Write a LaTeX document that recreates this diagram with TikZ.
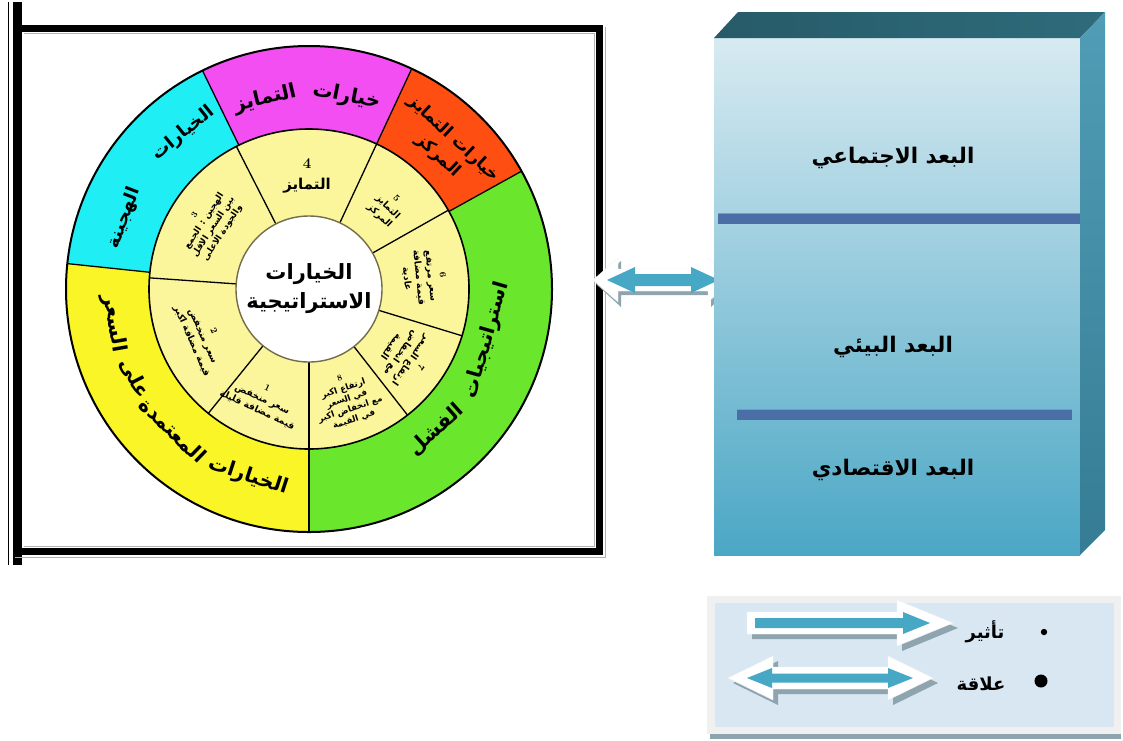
\documentclass[tikz,border=0pt]{standalone}
\usepackage{fontspec}
\usetikzlibrary{calc}
\newfontfamily\arabicfont[Script=Arabic]{DejaVu Sans}
\TeXXeTstate=1
\newcommand{\AR}[1]{{\arabicfont\beginR #1\endR}}
\definecolor{cMag}{HTML}{F24EF2}
\definecolor{cCyan}{HTML}{1FEFF4}
\definecolor{cOrange}{HTML}{FF4E12}
\definecolor{cGreen}{HTML}{6AE62C}
\definecolor{cYellow}{HTML}{F9F526}
\definecolor{cPale}{HTML}{FBF59C}
\definecolor{cBoxTop}{HTML}{D7EAF1}
\definecolor{cBoxBot}{HTML}{4BA7C5}
\definecolor{cBoxLid}{HTML}{2E6B7B}
\definecolor{cBoxSide}{HTML}{3E92AE}
\definecolor{cBar}{HTML}{4B6EA7}
\definecolor{cBarHi}{HTML}{7A98C8}
\definecolor{cArrow}{HTML}{46A8C4}
\definecolor{cShadow}{HTML}{8EA4AF}
\definecolor{cLegBg}{HTML}{D9E7F3}
\definecolor{cLegBd}{HTML}{F0F0F0}
\tikzset{
  outerword/.style={font=\fontsize{20}{22}\selectfont\bfseries, inner sep=0pt},
  innertxt/.style={font=\fontsize{9.3}{12}\selectfont\bfseries, align=center, inner sep=0pt},
  centertxt/.style={font=\fontsize{21}{29}\selectfont\bfseries, align=center, inner sep=0pt},
  dimtxt/.style={font=\fontsize{21.5}{24}\selectfont\bfseries, inner sep=0pt},
  legtxt/.style={font=\fontsize{18}{20}\selectfont\bfseries, inner sep=0pt},
  ringline/.style={line width=1.3pt, black},
  arrowwhite/.style={fill=white, draw=white!90!gray, line width=0.4pt},
  arrowshadow/.style={fill=cShadow},
  arrowblue/.style={fill=cArrow}
}
\begin{document}
\begin{tikzpicture}[x=1pt,y=1pt]
\useasboundingbox (0,0) rectangle (1123,-740);
% ---------- picture frame ----------
\draw[line width=1.4pt] (8.5,-2) -- (8.5,-565);
\fill (13,-2) rectangle (22,-565);
\fill (13,-25) rectangle (603,-32);
\fill (596,-25) rectangle (603,-555);
\fill (13,-548) rectangle (603,-555);
\draw[gray!60, line width=0.9pt] (24,-33.8) -- (594.3,-33.8) -- (594.3,-546.3) -- (24,-546.3);
\draw[gray!60, line width=0.9pt] (605,-27) -- (605,-557) -- (15,-557);
% ---------- wheel ----------
\coordinate (C) at (309,-289);
\fill[cYellow] (C) -- ++(174:243) arc[start angle=174, end angle=270, radius=243] -- cycle;
\fill[cGreen]  (C) -- ++(270:243) arc[start angle=270, end angle=389, radius=243] -- cycle;
\fill[cOrange] (C) -- ++(29:243) arc[start angle=29, end angle=65, radius=243] -- cycle;
\fill[cMag]    (C) -- ++(65:243) arc[start angle=65, end angle=116, radius=243] -- cycle;
\fill[cCyan]   (C) -- ++(116:243) arc[start angle=116, end angle=174, radius=243] -- cycle;
\foreach \a in {174,270,29,65,116}
  \draw[ringline] ($(C)+(\a:160)$) -- ($(C)+(\a:243)$);
\fill[cPale] (C) circle[radius=160];
\foreach \a in {29.5,65,117,176,231,270,308,343}
  \draw[ringline] ($(C)+(\a:73)$) -- ($(C)+(\a:160)$);
\draw[line width=1.6pt] (C) circle[radius=160];
\draw[line width=2pt] (C) circle[radius=243];
\fill[white] (C) circle[radius=73];
\draw[line width=1.4pt, black!45!olive!60!gray] (C) circle[radius=73];
\node[centertxt] (centre) at (C) {\AR{الخيارات}\\\AR{الاستراتيجية}};
% outer ring words
\node[outerword, rotate=13]  (magA) at ($(C)+(103:195)$) {\AR{التمايز}};
\node[outerword, rotate=-11] (magB) at ($(C)+(79:196)$) {\AR{خيارات}};
\node[outerword, rotate=-43, align=center, font=\fontsize{17}{23}\selectfont\bfseries] (orng) at ($(C)+(46:197)$) {\AR{خيارات التمايز}\\\AR{المركز}};
\node[outerword, rotate=39, font=\fontsize{18}{20}\selectfont\bfseries] (cyA) at ($(C)+(129:200)$) {\AR{الخيارات}};
\node[outerword, rotate=69, font=\fontsize{18}{20}\selectfont\bfseries] (cyB) at ($(C)+(159:198)$) {\AR{الهجينة}};
\node[outerword, rotate=-80] (yeA) at ($(C)+(190:198)$) {\AR{السعر}};
\node[outerword, rotate=-63] (yeB) at ($(C)+(207:196)$) {\AR{على}};
\node[outerword, rotate=-44] (yeC) at ($(C)+(226:196)$) {\AR{المعتمدة}};
\node[outerword, rotate=-18] (yeD) at ($(C)+(252:197)$) {\AR{الخيارات}};
\node[outerword, rotate=74] (grA) at ($(C)+(-16:185)$) {\AR{استراتيجيات}};
\node[outerword, rotate=42] (grB) at ($(C)+(-48:190)$) {\AR{الفشل}};
% inner ring texts
\node[innertxt, font=\fontsize{15}{21}\selectfont\bfseries] (s4) at ($(C)+(91:113)$) {4\\\AR{التمايز}};
\node[innertxt, rotate=-44] (s5) at ($(C)+(46:113)$) {5\\\AR{التمايز}\\\AR{المركز}};
\node[innertxt, rotate=-84] (s6) at ($(C)+(6:116)$) {6\\\AR{سعر مرتفع}\\\AR{قيمة مضافة}\\\AR{عادية}};
\node[innertxt, rotate=-125] (s7) at ($(C)+(-35:118)$) {7\\\AR{ارتفاع السعر}\\\AR{مع انخفاض}\\\AR{القيمة}};
\node[innertxt, rotate=19, font=\fontsize{8.6}{10.8}\selectfont\bfseries] (s8) at ($(C)+(-71:117)$) {8\\\AR{ارتفاع اكبر}\\\AR{في السعر}\\\AR{مع انخفاض اكبر}\\\AR{في القيمة}};
\node[innertxt, rotate=-25] (s1) at ($(C)+(247:120)$) {1\\\AR{سعر منخفض}\\\AR{قيمة مضافة قليلة}};
\node[innertxt, rotate=-66] (s2) at ($(C)+(204:117)$) {2\\\AR{سعر منخفض}\\\AR{قيمة مضافة اكبر}};
\node[innertxt, rotate=57, font=\fontsize{8.8}{11}\selectfont\bfseries] (s3) at ($(C)+(147:119)$) {3\\\AR{الهجين : الجمع}\\\AR{بين السعر الاقل}\\\AR{والجودة الاعلى}};
% ---------- link arrow ----------
\begin{scope}[shift={(663,-280)}]
  \path[arrowshadow] (-67,-4) -- (-42,19) -- (-42,7) -- (48,7) -- (48,19) -- (73,-4) -- (48,-27) -- (48,-15) -- (-42,-15) -- (-42,-27) -- cycle;
  \path[arrowwhite] (-70,0) -- (-45,22) -- (-45,11) -- (45,11) -- (45,22) -- (70,0) -- (45,-22) -- (45,-11) -- (-45,-11) -- (-45,-22) -- cycle;
  \path[arrowblue] (-56,0) -- (-28,13) -- (-28,6) -- (28,6) -- (28,13) -- (56,0) -- (28,-13) -- (28,-6) -- (-28,-6) -- (-28,-13) -- cycle;
\end{scope}
% ---------- 3D box ----------
\shade[top color=cBoxTop, bottom color=cBoxBot] (714,-38) rectangle (1080,-555);
\shade[left color=cBoxLid!85!black, right color=cBoxLid] (714,-38) -- (738,-12) -- (1105,-12) -- (1080,-38) -- cycle;
\shade[top color=cBoxSide!90!white, bottom color=cBoxSide!85!black] (1080,-38) -- (1105,-12) -- (1105,-530) -- (1080,-555) -- cycle;
\fill[cBar] (718,-213) rectangle (1080,-224);
\draw[cBarHi, line width=1pt] (718,-213.5) -- (1080,-213.5);
\fill[cBar] (737,-409) rectangle (1072,-420);
\draw[cBarHi, line width=1pt] (737,-409.5) -- (1072,-409.5);
\node[dimtxt] (social) at (893,-158) {\AR{البعد الاجتماعي}};
\node[dimtxt] (env) at (893,-347) {\AR{البعد البيئي}};
\node[dimtxt] (econ) at (893,-470) {\AR{البعد الاقتصادي}};
% ---------- legend ----------
\fill[cShadow] (710,-733) rectangle (1121,-739);
\fill[cLegBd] (707,-596) rectangle (1121,-734);
\fill[cLegBg] (715,-603) rectangle (1114,-727);
% single arrow
\begin{scope}[shift={(0,-623)}]
  \path[arrowshadow] (752,-16) -- (752,6) -- (902,6) -- (902,18) -- (958,-5) -- (902,-28) -- (902,-16) -- cycle;
  \path[arrowwhite] (747,-11) -- (747,11) -- (897,11) -- (897,23) -- (953,0) -- (897,-23) -- (897,-11) -- cycle;
  \path[arrowblue] (755,-5) -- (755,5) -- (903,5) -- (903,11) -- (930,0) -- (903,-11) -- (903,-5) -- cycle;
\end{scope}
% double arrow
\begin{scope}[shift={(0,-678)}]
  \path[arrowshadow] (733,-5) -- (778,17) -- (778,6) -- (893,6) -- (893,17) -- (938,-5) -- (893,-27) -- (893,-16) -- (778,-16) -- (778,-27) -- cycle;
  \path[arrowwhite] (728,0) -- (773,22) -- (773,11) -- (888,11) -- (888,22) -- (933,0) -- (888,-22) -- (888,-11) -- (773,-11) -- (773,-22) -- cycle;
  \path[arrowblue] (747,0) -- (772,10) -- (772,4.5) -- (888,4.5) -- (888,10) -- (913,0) -- (888,-10) -- (888,-4.5) -- (772,-4.5) -- (772,-10) -- cycle;
\end{scope}
\node[legtxt] (lgA) at (985,-632) {\AR{تأثير}};
\node[legtxt] (lgB) at (981,-684) {\AR{علاقة}};
\fill (1044,-632) circle[radius=3.2];
\fill (1041,-681) circle[radius=6.5];
\end{tikzpicture}
\end{document}
